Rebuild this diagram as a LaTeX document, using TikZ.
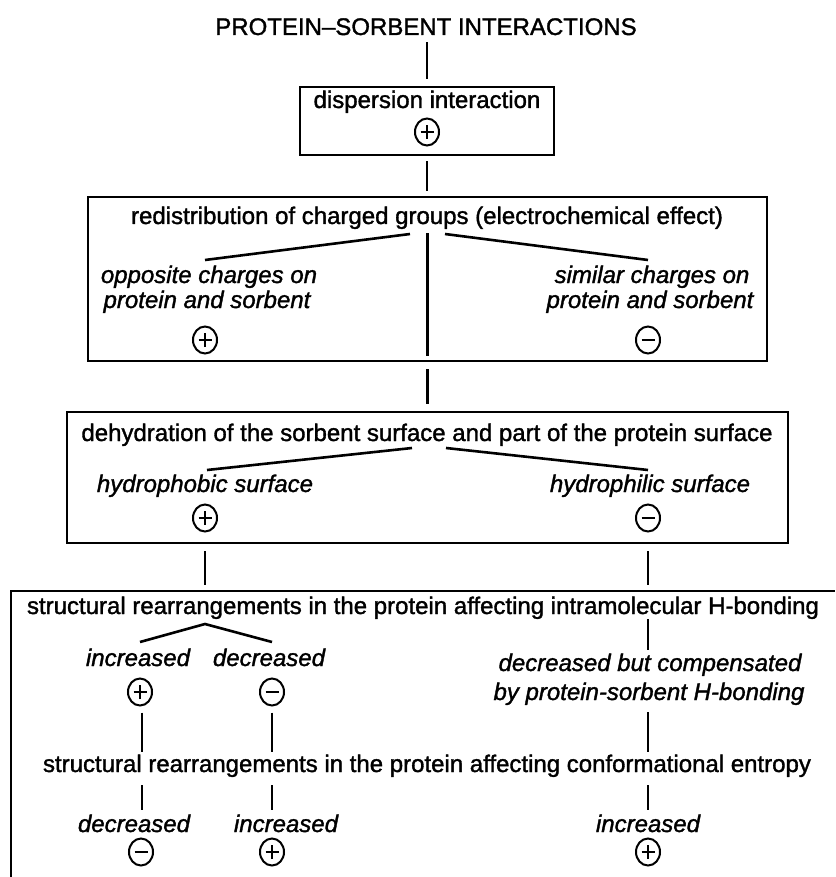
\documentclass[tikz,border=0pt]{standalone}
\usepackage{fontspec}
\setmainfont{Liberation Sans}[FakeBold=1.4,ItalicFeatures={FakeBold=1.4}]
\usetikzlibrary{shapes.geometric}
\tikzset{
  lbl/.style={anchor=base,inner sep=0pt,font=\fontsize{24}{26}\selectfont},
  ilbl/.style={anchor=base,inner sep=0pt,font=\fontsize{24}{26}\selectfont\itshape},
  frame/.style={draw,line width=2.6pt,inner sep=0pt},
  conn/.style={line width=2.6pt},
  sgn/.style={ellipse,draw,line width=2pt,minimum width=24pt,minimum height=27pt,inner sep=0pt},
  plus/.style={sgn,path picture={\draw[line width=2.2pt]
      ([xshift=-6.5pt]path picture bounding box.center) -- ([xshift=6.5pt]path picture bounding box.center)
      ([yshift=-7pt]path picture bounding box.center) -- ([yshift=7pt]path picture bounding box.center);}},
  minus/.style={sgn,path picture={\draw[line width=2.6pt]
      ([xshift=-6.5pt]path picture bounding box.center) -- ([xshift=6.5pt]path picture bounding box.center);}}
}
\begin{document}
\begin{tikzpicture}[x=1pt,y=-1pt]
\useasboundingbox[fill=white] (0,0) rectangle (835,877);
% title
\node[lbl] (title) at (426,35) {PROTEIN--SORBENT INTERACTIONS};
% box 1
\node[frame,minimum width=254pt,minimum height=68pt] (b1) at (427,121) {};
\node[lbl] (disp) at (427,108) {dispersion interaction};
\node[plus] (s1) at (427,132) {};
\draw[conn,shorten <=7pt,shorten >=7pt] (b1.north |- title.south) -- (b1.north);
% box 2
\node[frame,minimum width=679pt,minimum height=164pt] (b2) at (427.5,279) {};
\draw[conn,shorten <=5pt,shorten >=5pt] (b1.south) -- (b1.south |- b2.north);
\node[lbl] (r2) at (427,224) {redistribution of charged groups (electrochemical effect)};
\coordinate (r2l) at (410,234);
\coordinate (r2r) at (445,234);
\coordinate (o2l) at (205,260);
\coordinate (o2r) at (648,260);
\draw[conn] (r2l) -- (o2l);
\draw[conn] (r2r) -- (o2r);
\node[ilbl] (op1) at (209,283) {opposite charges on};
\node[ilbl] (op2) at (207,308) {protein and sorbent};
\node[ilbl] (si1) at (652,283) {similar charges on};
\node[ilbl] (si2) at (650,308) {protein and sorbent};
\node[plus] (s2l) at (205,340) {};
\node[minus] (s2r) at (648,340) {};
\draw[conn,shorten <=4pt,shorten >=6pt] (b2.north |- r2.south) -- (b2.south);
% box 3
\node[frame,minimum width=721pt,minimum height=131pt] (b3) at (427.5,477.5) {};
\draw[conn,shorten <=7pt,shorten >=7pt] (b2.south) -- (b2.south |- b3.north);
\node[lbl] (d3) at (427,441) {dehydration of the sorbent surface and part of the protein surface};
\coordinate (d3l) at (412,448);
\coordinate (d3r) at (446,448);
\coordinate (h3l) at (207,470);
\coordinate (h3r) at (648,470);
\draw[conn] (d3l) -- (h3l);
\draw[conn] (d3r) -- (h3r);
\node[ilbl] (hb) at (205,492) {hydrophobic surface};
\node[ilbl] (hl) at (650,492) {hydrophilic surface};
\node[plus] (s3l) at (205,518) {};
\node[minus] (s3r) at (648,518) {};
% box 4
\coordinate (b4) at (427,591);
\draw[frame] (11,877) |- (835,591);
\draw[conn,shorten <=7pt,shorten >=6pt] (s3l |- b3.south) -- (s3l |- b4);
\draw[conn,shorten <=7pt,shorten >=6pt] (s3r |- b3.south) -- (s3r |- b4);
\node[lbl] (h4) at (423,614) {structural rearrangements in the protein affecting intramolecular H-bonding};
\coordinate (pk) at (205,624);
\coordinate (pkl) at (140,642);
\coordinate (pkr) at (272,642);
\draw[conn] (pkl) -- (pk) -- (pkr);
\node[ilbl] (inc1) at (138,666) {increased};
\node[ilbl] (dec1) at (269,666) {decreased};
\node[plus] (s4a) at (140,692) {};
\node[minus] (s4b) at (272,692) {};
\node[ilbl] (dc1) at (650,671) {decreased but compensated};
\node[ilbl] (dc2) at (649,700) {by protein-sorbent H-bonding};
\draw[conn,shorten >=3pt] (s3r |- h4.south) -- (s3r |- dc1.north);
\node[lbl] (h5) at (427,772) {structural rearrangements in the protein affecting conformational entropy};
\draw[conn,shorten <=6pt,shorten >=2pt] (142,0 |- s4a.south) -- (142,0 |- h5.north);
\draw[conn,shorten <=6pt,shorten >=2pt] (s4b.south) -- (s4b.south |- h5.north);
\draw[conn,shorten <=7pt,shorten >=2pt] (s3r |- dc2.south) -- (s3r |- h5.north);
\node[ilbl] (d6) at (134,832) {decreased};
\node[ilbl] (i6) at (286,832) {increased};
\node[ilbl] (i7) at (648,832) {increased};
\draw[conn,shorten <=8pt,shorten >=4pt] (142,0 |- h5.south) -- (142,0 |- d6.north);
\draw[conn,shorten <=8pt,shorten >=4pt] (s4b |- h5.south) -- (s4b |- i6.north);
\draw[conn,shorten <=8pt,shorten >=4pt] (s3r |- h5.south) -- (s3r |- i7.north);
\node[minus] (s6a) at (141,852) {};
\node[plus] (s6b) at (272,852) {};
\node[plus] (s7) at (648,852) {};
\end{tikzpicture}
\end{document}
